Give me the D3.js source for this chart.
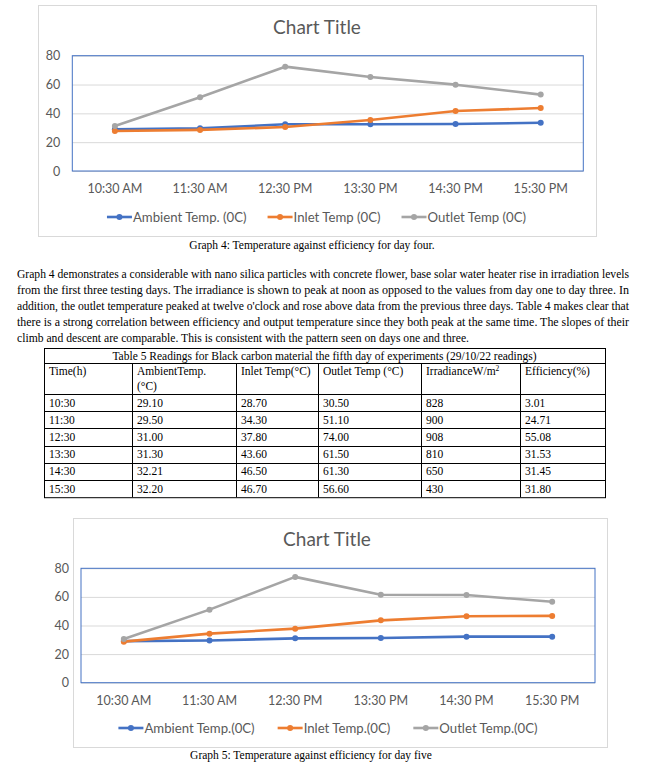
<!DOCTYPE html>
<html>
<head>
<meta charset="utf-8">
<script src="https://d3js.org/d3.v7.min.js"></script>
<style>
  body { margin: 0; background: #fff; }
  svg { display: block; }
</style>
</head>
<body>
<svg id="page"></svg>
<script>
// ---- data ----
var times = ['10:30 AM', '11:30 AM', '12:30 PM', '13:30 PM', '14:30 PM', '15:30 PM'];
var yTicks = [0, 20, 40, 60, 80];

var ambient4 = [28.9, 29.6, 32.4, 32.4, 32.6, 33.5];
var inlet4   = [27.8, 28.5, 30.5, 35.4, 41.6, 43.7];
var outlet4  = [31.2, 51.1, 72.4, 65.2, 59.9, 53.0];
var names4 = ['Ambient Temp. (0C)', 'Inlet Temp (0C)', 'Outlet Temp (0C)'];

// day five (table 5)
var tableTimes  = ['10:30', '11:30', '12:30', '13:30', '14:30', '15:30'];
var ambient5    = [29.10, 29.50, 31.00, 31.30, 32.21, 32.20];
var inlet5      = [28.70, 34.30, 37.80, 43.60, 46.50, 46.70];
var outlet5     = [30.50, 51.10, 74.00, 61.50, 61.30, 56.60];
var irradiance5 = [828, 900, 908, 810, 650, 430];
var efficiency5 = [3.01, 24.71, 55.08, 31.53, 31.45, 31.80];
var names5 = ['Ambient Temp.(0C)', 'Inlet Temp.(0C)', 'Outlet Temp.(0C)'];

var colors = ['#4472C4', '#ED7D31', '#A5A5A5'];

var paragraph = [
  'Graph 4 demonstrates a considerable with nano silica particles with concrete flower, base solar water heater rise in irradiation levels',
  'from the first three testing days. The irradiance is shown to peak at noon as opposed to the values from day one to day three. In',
  'addition, the outlet temperature peaked at twelve o\'clock and rose above data from the previous three days. Table 4 makes clear that',
  'there is a strong correlation between efficiency and output temperature since they both peak at the same time. The slopes of their',
  'climb and descent are comparable. This is consistent with the pattern seen on days one and three.'
];

var svg = d3.select('#page').attr('width', 645).attr('height', 771);
svg.append('rect').attr('width', 645).attr('height', 771).attr('fill', '#fff');

var sans = 'Lato, "Open Sans", sans-serif';
var serif = '"Liberation Serif", "Times New Roman", serif';

function drawChart(c) {
  var g = svg.append('g');
  g.append('rect')
    .attr('x', c.box[0] + 0.5).attr('y', c.box[1] + 0.5)
    .attr('width', c.box[2] - c.box[0]).attr('height', c.box[3] - c.box[1])
    .attr('fill', '#fff').attr('stroke', '#d9d9d9');

  g.append('text')
    .attr('x', c.titleX).attr('y', c.titleY)
    .attr('text-anchor', 'middle')
    .attr('font-family', sans).attr('font-size', 19)
    .attr('fill', '#595959')
    .text('Chart Title');

  var x = d3.scaleBand().domain(times).range([c.plot[0], c.plot[2]]);
  var y = d3.scaleLinear().domain([0, 80]).range([c.plot[3], c.plot[1]]);
  var cx = function(d, i) { return x(times[i]) + x.bandwidth() / 2; };

  // gridlines
  g.append('g')
    .attr('transform', 'translate(' + c.plot[0] + ',0)')
    .call(d3.axisLeft(y).tickValues(yTicks).tickSize(-(c.plot[2] - c.plot[0])).tickFormat(''))
    .call(function(a) {
      a.select('.domain').remove();
      a.selectAll('line').attr('stroke', '#d9d9d9');
    });

  // y labels
  g.append('g')
    .attr('transform', 'translate(' + c.plot[0] + ',0)')
    .call(d3.axisLeft(y).tickValues(yTicks).tickSize(0).tickPadding(12))
    .call(function(a) {
      a.select('.domain').remove();
      a.selectAll('text').attr('fill', '#595959').attr('font-size', 12.5).attr('font-family', sans);
    });

  // x labels
  g.append('g')
    .attr('transform', 'translate(0,' + c.plot[3] + ')')
    .call(d3.axisBottom(x).tickSize(0).tickPadding(13))
    .call(function(a) {
      a.select('.domain').remove();
      a.selectAll('text').attr('fill', '#595959').attr('font-size', 12.5).attr('font-family', sans);
    });

  // plot border
  g.append('rect')
    .attr('x', c.plot[0]).attr('y', c.plot[1])
    .attr('width', c.plot[2] - c.plot[0]).attr('height', c.plot[3] - c.plot[1])
    .attr('fill', 'none').attr('stroke', '#4472C4');

  var line = d3.line().x(cx).y(function(d) { return y(d); });
  c.series.forEach(function(s, k) {
    g.append('path').datum(s)
      .attr('d', line)
      .attr('fill', 'none').attr('stroke', colors[k])
      .attr('stroke-width', 2.6).attr('stroke-linejoin', 'round');
    g.selectAll(null).data(s).enter().append('circle')
      .attr('cx', cx).attr('cy', function(d) { return y(d); })
      .attr('r', 3).attr('fill', colors[k]);
  });

  // legend
  var lg = g.append('g');
  var pos = 0;
  c.names.forEach(function(n, k) {
    var it = lg.append('g');
    it.append('line').attr('x1', 0).attr('x2', 25).attr('y1', 0).attr('y2', 0)
      .attr('stroke', colors[k]).attr('stroke-width', 2.6);
    it.append('circle').attr('cx', 12.5).attr('cy', 0).attr('r', 3).attr('fill', colors[k]);
    var t = it.append('text').attr('x', 26).attr('y', 4.7)
      .attr('font-family', sans).attr('font-size', 13.2).attr('fill', '#595959')
      .text(n);
    var w = 26 + t.node().getComputedTextLength();
    it.attr('transform', 'translate(' + pos + ',0)');
    pos += w + c.legendGap;
  });
  var total = pos - c.legendGap;
  lg.attr('transform', 'translate(' + (c.legendCx - total / 2) + ',' + c.legendY + ')');

  svg.append('text')
    .attr('x', c.captionX).attr('y', c.captionY)
    .attr('text-anchor', 'middle')
    .attr('font-family', serif).attr('font-size', 11.5).attr('fill', '#000')
    .text(c.caption);
}

drawChart({
  box: [38, 5, 596, 236],
  plot: [72.3, 55.7, 583.3, 171],
  titleX: 317, titleY: 34,
  series: [ambient4, inlet4, outlet4],
  names: names4,
  legendCx: 316.5, legendY: 217, legendGap: 21,
  caption: 'Graph 4: Temperature against efficiency for day four.',
  captionX: 312, captionY: 249
});

// paragraph, justified
var para = svg.append('g');
paragraph.forEach(function(l, i) {
  var t = para.append('text')
    .attr('x', 17).attr('y', 278 + i * 16)
    .attr('font-family', serif).attr('font-size', 11.5)
    .text(l);
  if (i < paragraph.length - 1) {
    t.attr('textLength', 612).attr('lengthAdjust', 'spacingAndGlyphs');
  } else {
    t.attr('textLength', 452).attr('lengthAdjust', 'spacingAndGlyphs');
  }
});

// table 5
var cols = [44, 132, 236, 318, 421, 520, 605];
var tTop = 348, tTitleB = 363, tHeadB = 394, rowH = 17.2;
var tab = svg.append('g').attr('font-family', serif).attr('font-size', 11.5);
var tBottom = tHeadB + rowH * tableTimes.length;
tab.append('rect').attr('x', cols[0] + 0.5).attr('y', tTop + 0.5)
  .attr('width', cols[6] - cols[0]).attr('height', tBottom - tTop)
  .attr('fill', 'none').attr('stroke', '#000');
[tTitleB, tHeadB].concat(d3.range(1, tableTimes.length).map(function(i) { return tHeadB + i * rowH; }))
  .forEach(function(yy) {
    tab.append('line').attr('x1', cols[0]).attr('x2', cols[6])
      .attr('y1', Math.round(yy) + 0.5).attr('y2', Math.round(yy) + 0.5).attr('stroke', '#000');
  });
cols.slice(1, 6).forEach(function(xx) {
  tab.append('line').attr('x1', xx + 0.5).attr('x2', xx + 0.5)
    .attr('y1', tTitleB).attr('y2', tBottom).attr('stroke', '#000');
});
tab.append('text').attr('x', (cols[0] + cols[6]) / 2).attr('y', tTitleB - 3.5)
  .attr('text-anchor', 'middle')
  .text('Table 5 Readings for Black carbon material the fifth day of experiments (29/10/22 readings)');

var headers = [
  ['Time(h)'], ['AmbientTemp.', '(\u00B0C)'], ['Inlet Temp(\u00B0C)'],
  ['Outlet Temp (\u00B0C)'], ['IrradianceW/m'], ['Efficiency(%)']
];
headers.forEach(function(h, j) {
  h.forEach(function(s, k) {
    var t = tab.append('text').attr('x', cols[j] + 5).attr('y', tTitleB + 12 + k * 15).text(s);
    if (j === 4) t.append('tspan').attr('dy', -4).attr('font-size', 7.5).text('2');
  });
});
var rows = tableTimes.map(function(t, i) {
  return [t, ambient5[i].toFixed(2), inlet5[i].toFixed(2), outlet5[i].toFixed(2),
          String(irradiance5[i]), efficiency5[i].toFixed(2)];
});
rows.forEach(function(r, i) {
  r.forEach(function(v, j) {
    tab.append('text').attr('x', cols[j] + 5).attr('y', tHeadB + i * rowH + 12.5).text(v);
  });
});

drawChart({
  box: [73, 518, 607, 747],
  plot: [81, 568.3, 595, 682.7],
  titleX: 327, titleY: 546,
  series: [ambient5, inlet5, outlet5],
  names: names5,
  legendCx: 328, legendY: 728, legendGap: 23,
  caption: 'Graph 5: Temperature against efficiency for day five',
  captionX: 311, captionY: 759
});
</script>
</body>
</html>
